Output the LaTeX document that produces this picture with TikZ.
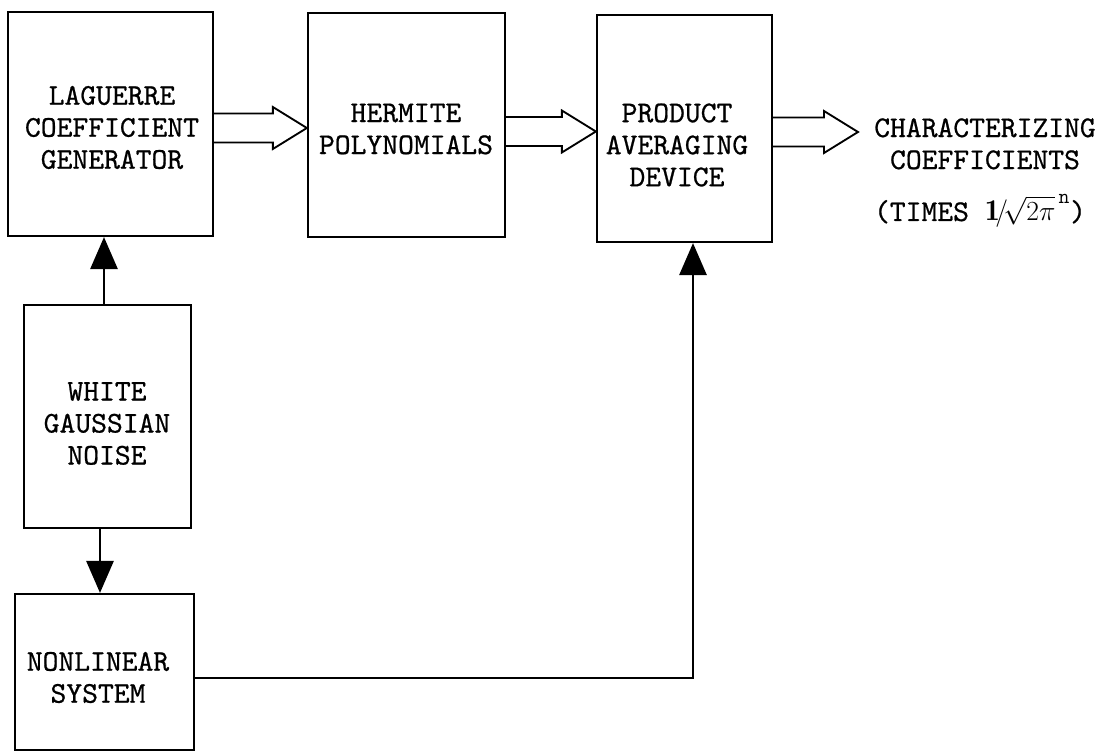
\documentclass[tikz,border=0pt]{standalone}
\usepackage{fontspec}
\newfontfamily\twfont{lmmono10-regular}[Extension=.otf, FakeBold=0.7]
\usetikzlibrary{arrows.meta,calc}
\begin{document}
\begin{tikzpicture}[x=0.75pt,y=-0.75pt,
  blk/.style={draw, line width=1.7pt, inner sep=0pt},
  lbl/.style={font=\fontsize{22.6}{24}\selectfont\twfont, align=center, inner sep=0pt},
  link/.style={line width=1.4pt},
  tipup/.style={-{Triangle[length=24pt,width=20.5pt]}},
  hollowarr/.style={line width=1.4pt, line join=miter, to path={
    let \p1=(\tikztostart), \p2=(\tikztotarget) in
    (\x1,\y1+10.9pt) -- (\x2-25.5pt,\y1+10.9pt) -- (\x2-25.5pt,\y1+15.75pt) -- (\x2,\y1)
    -- (\x2-25.5pt,\y1-15.75pt) -- (\x2-25.5pt,\y1-10.9pt) -- (\x1,\y1-10.9pt)}}
]
\useasboundingbox (0,0) rectangle (1111,752);

% boxes
\node[blk, minimum width=153.75pt, minimum height=168pt]   (lag)  at (110.5,124)   {};
\node[blk, minimum width=147.75pt, minimum height=168pt]   (her)  at (406.5,125)   {};
\node[blk, minimum width=131.25pt, minimum height=170.25pt](prod) at (684.5,128.5) {};
\node[blk, minimum width=125.25pt, minimum height=167.25pt](wgn)  at (107.5,416.5) {};
\node[blk, minimum width=134.25pt, minimum height=117pt]   (nls)  at (104.5,672)   {};

% texts
\node[lbl] (lagt)  at (112,127.5) {LAGUERRE\\COEFFICIENT\\GENERATOR};
\node[lbl] (hert)  at (406,129)   {HERMITE\\POLYNOMIALS};
\node[lbl] (prodt) at (677,145)   {PRODUCT\\AVERAGING\\DEVICE};
\node[lbl] (wgnt)  at (107,423.5) {WHITE\\GAUSSIAN\\NOISE};
\node[lbl] (nlst)  at (98,677.5)  {NONLINEAR\\SYSTEM};
\node[lbl, anchor=north] (outt) at (985,118) {CHARACTERIZING\\COEFFICIENTS};
\node[lbl, anchor=base] (timest) at (980,221)
  {(TIMES $\mathbf{1}\!/\!\sqrt{2\pi}^{\,\mathtt{n}}$)};

% helper coordinates
\coordinate (outtip) at (858,132);
\coordinate (upx) at (104,0);
\coordinate (dnx) at (100,0);
\coordinate (fbx) at (693,0);

% hollow (double) arrows
\draw[hollowarr] ($(lag.east)+(0,4)$) to (her.west);
\draw[hollowarr] ($(her.east)+(0,6.5)$) to (prod.west);
\draw[hollowarr] ($(prod.east)+(0,3.5)$) to (outtip);

% filled arrows
\draw[link, tipup] (upx |- wgn.north) -- (upx |- lag.south);
\draw[link, tipup] (dnx |- wgn.south) -- (dnx |- nls.north);
\draw[link, tipup] ($(nls.east)+(0,6)$) -| (fbx |- prod.south);
\end{tikzpicture}
\end{document}
